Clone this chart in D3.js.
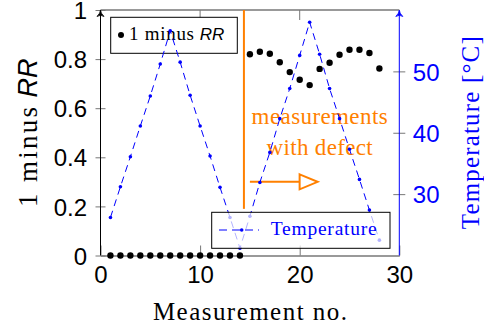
<!DOCTYPE html>
<html>
<head>
<meta charset="utf-8">
<script src="https://cdn.jsdelivr.net/npm/d3@7"></script>
<style>
  html, body { margin: 0; padding: 0; background: #fff; }
  svg { display: block; }
</style>
</head>
<body>
<div id="chart-area"></div>
<script>
// measurement numbers
const measurement = d3.range(1, 29);

// 1 minus RR (left axis)
const oneMinusRR = [0, 0, 0, 0, 0, 0, 0, 0, 0, 0, 0, 0, 0, 0,
  0.820, 0.830, 0.822, 0.787, 0.747, 0.716, 0.694, 0.760, 0.785, 0.818, 0.838, 0.838, 0.825, 0.762];

// temperature in degC (right axis)
const temperature = [26.2, 31.2, 36.1, 41.1, 46.0, 51.2, 56.6, 51.5, 46.1, 41.1, 36.2, 31.1, 26.2, 21.2,
  26.4, 31.9, 36.8, 42.3, 47.2, 52.6, 58.0, 52.8, 47.2, 42.3, 37.3, 32.4, 27.4, 22.5];

const xTicks = [0, 10, 20, 30];
const yLeftTicks = [0, 0.2, 0.4, 0.6, 0.8, 1];
const yRightTicks = [30, 40, 50];

// defect annotation (data units)
const defectAt = 14.4;
const defectLine = [0.19, 1];
const arrowFrom = 15, arrowTo = 21.8, arrowAt = 0.3;
const defectText = ['measurements', 'with defect'];

const W = 484, H = 333;
const mLeft = 100.5, mRight = 399.3, mTop = 10, mBottom = 255.5;

const serif = '"Liberation Serif", "Times New Roman", serif';
const sans = '"Liberation Sans", Arial, sans-serif';
const grey = '#777';
const orange = '#ff8000';
const blue = '#0000ff';

const svg = d3.select('#chart-area')
  .append('svg')
  .attr('width', W)
  .attr('height', H);

const x = d3.scaleLinear().domain([0, 30]).range([mLeft, mRight]);
const yL = d3.scaleLinear().domain([0, 1]).range([mBottom, mTop]);
const yR = d3.scaleLinear().domain([20, 60]).range([mBottom, mTop]);

// top frame line + top ticks
svg.append('line')
  .attr('x1', mLeft).attr('x2', mRight).attr('y1', mTop).attr('y2', mTop)
  .attr('stroke', grey).attr('stroke-width', 1.3);
svg.selectAll('.top-tick').data(xTicks.slice(1, -1)).enter().append('line')
  .attr('x1', d => x(d)).attr('x2', d => x(d))
  .attr('y1', mTop).attr('y2', mTop + 10)
  .attr('stroke', grey).attr('stroke-width', 1);

// bottom axis
const xAxis = svg.append('g')
  .attr('transform', `translate(0, ${mBottom})`)
  .call(d3.axisBottom(x).tickValues(xTicks).tickSizeOuter(0));
xAxis.select('.domain').attr('stroke', grey).attr('stroke-width', 1.3);
xAxis.selectAll('.tick line').attr('y2', -10).attr('stroke', grey);
xAxis.selectAll('.tick text')
  .attr('y', 27.5).attr('dy', 0)
  .attr('font-family', sans).attr('font-size', 24).attr('fill', '#000');

// left axis
const yAxisL = svg.append('g')
  .attr('transform', `translate(${mLeft}, 0)`)
  .call(d3.axisLeft(yL).tickValues(yLeftTicks).tickSizeOuter(0).tickFormat(d => d));
yAxisL.select('.domain').remove();
yAxisL.selectAll('.tick line').attr('x1', 5).attr('x2', -5).attr('stroke', grey);
yAxisL.selectAll('.tick text')
  .attr('x', -13.5).attr('dy', '0.36em')
  .attr('font-family', sans).attr('font-size', 24).attr('fill', '#000');

// right axis
const yAxisR = svg.append('g')
  .attr('transform', `translate(${mRight}, 0)`)
  .call(d3.axisRight(yR).tickValues(yRightTicks).tickSizeOuter(0));
yAxisR.select('.domain').remove();
yAxisR.selectAll('.tick line').attr('x1', -6).attr('x2', 6).attr('stroke', grey);
yAxisR.selectAll('.tick text')
  .attr('x', 13.5).attr('dy', '0.36em')
  .attr('font-family', sans).attr('font-size', 24).attr('fill', blue);

// legend for 1 minus RR (opaque)
const leg1 = svg.append('g');
leg1.append('rect')
  .attr('x', 110.7).attr('y', 17.3).attr('width', 126.6).attr('height', 36)
  .attr('fill', '#fff').attr('stroke', '#000').attr('stroke-width', 1);
leg1.append('circle').attr('cx', 121).attr('cy', 35).attr('r', 3).attr('fill', '#000');
const leg1Text = leg1.append('text').attr('x', 129).attr('y', 39.5).attr('font-size', 19);
leg1Text.append('tspan').attr('font-family', serif).attr('textLength', 65).text('1 minus');
leg1Text.append('tspan').attr('font-family', sans).attr('font-style', 'italic')
  .attr('font-size', 17).attr('dx', 5).text('RR');

// defect annotation
svg.append('line')
  .attr('x1', x(defectAt)).attr('x2', x(defectAt))
  .attr('y1', yL(defectLine[0])).attr('y2', yL(defectLine[1]))
  .attr('stroke', orange).attr('stroke-width', 2);
svg.selectAll('.defect-text').data(defectText).enter().append('text')
  .attr('x', x(22))
  .attr('y', (d, i) => 124 + i * 31.3)
  .attr('text-anchor', 'middle')
  .attr('font-family', serif).attr('font-size', 23)
  .attr('fill', orange)
  .attr('textLength', (d, i) => i === 0 ? 136 : 106)
  .text(d => d);
const ay = yL(arrowAt);
svg.append('line')
  .attr('x1', x(arrowFrom)).attr('x2', x(arrowTo) - 18)
  .attr('y1', ay).attr('y2', ay)
  .attr('stroke', orange).attr('stroke-width', 2);
svg.append('path')
  .attr('d', `M${x(arrowTo) - 18},${ay - 7.5} L${x(arrowTo)},${ay} L${x(arrowTo) - 18},${ay + 7.5} Z`)
  .attr('fill', '#fff').attr('stroke', orange).attr('stroke-width', 2);

// 1 minus RR points
svg.selectAll('.rr').data(measurement).enter().append('circle')
  .attr('cx', d => x(d))
  .attr('cy', (d, i) => yL(oneMinusRR[i]))
  .attr('r', 3.2)
  .attr('fill', '#000');

// temperature line
const line = d3.line()
  .x(d => x(d))
  .y((d, i) => yR(temperature[i]));
svg.append('path')
  .datum(measurement)
  .attr('d', line)
  .attr('fill', 'none')
  .attr('stroke', blue)
  .attr('stroke-width', 1)
  .attr('stroke-dasharray', '7,5');
svg.selectAll('.temp').data(measurement).enter().append('circle')
  .attr('cx', d => x(d))
  .attr('cy', (d, i) => yR(temperature[i]))
  .attr('r', 1.8)
  .attr('fill', blue);

// legend for temperature (semi transparent)
const leg2 = svg.append('g');
leg2.append('rect')
  .attr('x', 211.7).attr('y', 212.3).attr('width', 178.3).attr('height', 36)
  .attr('fill', '#fff').attr('fill-opacity', 0.7)
  .attr('stroke', '#000').attr('stroke-width', 1);
leg2.append('line')
  .attr('x1', 219).attr('x2', 259).attr('y1', 230).attr('y2', 230)
  .attr('stroke', blue).attr('stroke-width', 1).attr('stroke-dasharray', '8,5');
leg2.append('circle').attr('cx', 241.7).attr('cy', 230).attr('r', 1.8).attr('fill', blue);
leg2.append('text')
  .attr('x', 270.7).attr('y', 234.5)
  .attr('font-family', serif).attr('font-size', 19.5)
  .attr('textLength', 106)
  .attr('fill', blue)
  .text('Temperature');

// axis lines with arrows
function axisArrow(cx, color) {
  svg.append('line')
    .attr('x1', cx).attr('x2', cx).attr('y1', mBottom).attr('y2', mTop + 1)
    .attr('stroke', color).attr('stroke-width', 1);
  svg.append('path')
    .attr('d', `M${cx - 3.5},${mTop + 6.5} Q${cx},${mTop + 3} ${cx},${mTop} Q${cx},${mTop + 3} ${cx + 3.5},${mTop + 6.5} Q${cx},${mTop + 4} ${cx - 3.5},${mTop + 6.5} Z`)
    .attr('fill', color).attr('stroke', color).attr('stroke-width', 0.8);
}
axisArrow(mLeft, '#000');
axisArrow(mRight, blue);

// axis titles
svg.append('text')
  .attr('x', (mLeft + mRight) / 2).attr('y', 320)
  .attr('text-anchor', 'middle')
  .attr('font-family', serif).attr('font-size', 25)
  .attr('textLength', 194)
  .text('Measurement no.');

const yLabel = svg.append('text')
  .attr('transform', `translate(36.5, ${(mTop + mBottom) / 2}) rotate(-90)`)
  .attr('text-anchor', 'middle')
  .attr('font-size', 27);
yLabel.append('tspan').attr('font-family', serif).attr('textLength', 100).text('1 minus');
yLabel.append('tspan').attr('font-family', sans).attr('font-style', 'italic').attr('dx', 7).text('RR');

svg.append('text')
  .attr('transform', `translate(478.5, ${(mTop + mBottom) / 2}) rotate(-90)`)
  .attr('text-anchor', 'middle')
  .attr('font-family', serif).attr('font-size', 25)
  .attr('textLength', 193)
  .attr('fill', blue)
  .text('Temperature [°C]');
</script>
</body>
</html>
